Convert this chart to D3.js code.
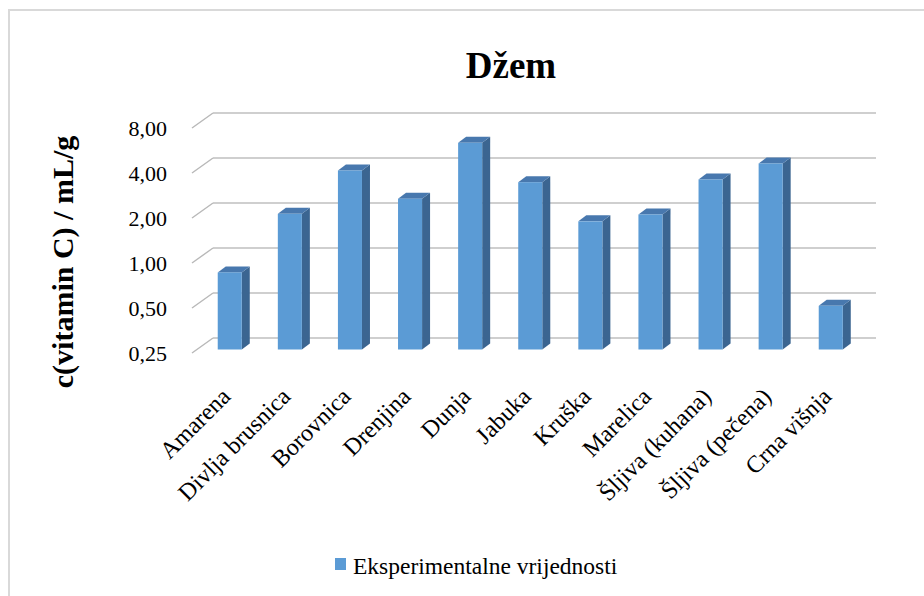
<!DOCTYPE html>
<html>
<head>
<meta charset="utf-8">
<script src="https://cdn.jsdelivr.net/npm/d3@7"></script>
<style>
  html, body { margin: 0; padding: 0; background: #fff; }
  svg text { font-family: "Liberation Serif", "Times New Roman", serif; fill: #000; }
</style>
</head>
<body>
<div id="chart"></div>
<script>
// data
const categories = ['Amarena', 'Divlja brusnica', 'Borovnica', 'Drenjina', 'Dunja', 'Jabuka',
  'Kruška', 'Marelica', 'Šljiva (kuhana)', 'Šljiva (pečena)', 'Crna višnja'];
const values = [0.82, 2.02, 3.94, 2.55, 6.03, 3.29, 1.80, 2.00, 3.43, 4.39, 0.49];
const tickValues = [0.25, 0.5, 1, 2, 4, 8];
const seriesName = 'Eksperimentalne vrijednosti';
const title = 'Džem';
const yTitle = 'c(vitamin C) / mL/g';

const width = 924, height = 596;

const svg = d3.select('#chart').append('svg')
  .attr('width', width)
  .attr('height', height);

// chart area border (top and left visible)
svg.append('rect')
  .attr('x', 9).attr('y', 10)
  .attr('width', width + 20).attr('height', height + 20)
  .attr('fill', 'none')
  .attr('stroke', '#D9D9D9')
  .attr('stroke-width', 2);

// scales on the plane where the bar fronts sit
const y = d3.scaleLog().base(2)
  .domain([0.25, 8])
  .range([349.5, 124.5]);

const x = d3.scaleBand()
  .domain(categories)
  .range([199.7, 860.8])
  .paddingInner(0.6)
  .paddingOuter(0.3);

// 3D offsets
const wall = { dx: 13.3, dy: -11.5 };
const front = { dx: -7.7, dy: 3.5 };
const depth = { dx: 8, dy: -6 };
const wallRight = 876;

// gridlines on back wall + diagonal on side wall
const grid = svg.append('g');
tickValues.forEach(t => {
  const yw = y(t) + wall.dy;
  const yf = y(t) + front.dy;
  const xw = x.range()[0] + wall.dx;
  const xf = x.range()[0] + front.dx;
  grid.append('line')
    .attr('x1', xw).attr('x2', wallRight)
    .attr('y1', yw).attr('y2', yw)
    .attr('stroke', '#BFBFBF').attr('stroke-width', 1.6);
  grid.append('line')
    .attr('x1', xf).attr('x2', xw)
    .attr('y1', yf).attr('y2', yw)
    .attr('stroke', '#B8B8B8').attr('stroke-width', 1.4);
});

// y tick labels
const fmt = d3.format('.2f');
svg.append('g').selectAll('text')
  .data(tickValues)
  .join('text')
  .attr('x', 167)
  .attr('y', d => y(d) + front.dy)
  .attr('dy', '0.35em')
  .attr('text-anchor', 'end')
  .style('font-size', '22px')
  .text(d => fmt(d).replace('.', ','));

// bars
const base = y.range()[0];
const bw = x.bandwidth();
const bars = svg.append('g').selectAll('g')
  .data(categories.map((c, i) => ({ name: c, value: values[i] })))
  .join('g');

bars.append('path')
  .attr('fill', '#3B6591')
  .attr('d', d => {
    const x0 = x(d.name) + bw, yt = y(d.value);
    return `M${x0},${yt}L${x0 + depth.dx},${yt + depth.dy}L${x0 + depth.dx},${base + depth.dy}L${x0},${base}Z`;
  });

bars.append('path')
  .attr('fill', '#4878AE')
  .attr('d', d => {
    const x0 = x(d.name), yt = y(d.value);
    return `M${x0},${yt}L${x0 + depth.dx},${yt + depth.dy}L${x0 + bw + depth.dx},${yt + depth.dy}L${x0 + bw},${yt}Z`;
  });

bars.append('rect')
  .attr('x', d => x(d.name))
  .attr('y', d => y(d.value))
  .attr('width', bw)
  .attr('height', d => base - y(d.value))
  .attr('fill', '#5B9BD5');

// category labels
svg.append('g').selectAll('text')
  .data(categories)
  .join('text')
  .attr('transform', d => `translate(${x(d) + bw / 2 + 2},${398}) rotate(-45)`)
  .attr('text-anchor', 'end')
  .style('font-size', '24px')
  .text(d => d);

// title
svg.append('text')
  .attr('x', 511).attr('y', 78)
  .attr('text-anchor', 'middle')
  .style('font-size', '37px')
  .style('font-weight', 'bold')
  .text(title);

// y axis title
svg.append('text')
  .attr('transform', 'translate(73,262) rotate(-90)')
  .attr('text-anchor', 'middle')
  .style('font-size', '30px')
  .style('font-weight', 'bold')
  .text(yTitle);

// legend
const legend = svg.append('g');
legend.append('rect')
  .attr('x', 335).attr('y', 558)
  .attr('width', 11).attr('height', 12)
  .attr('fill', '#5B9BD5');
legend.append('text')
  .attr('x', 353).attr('y', 574)
  .style('font-size', '23.5px')
  .text(seriesName);
</script>
</body>
</html>
